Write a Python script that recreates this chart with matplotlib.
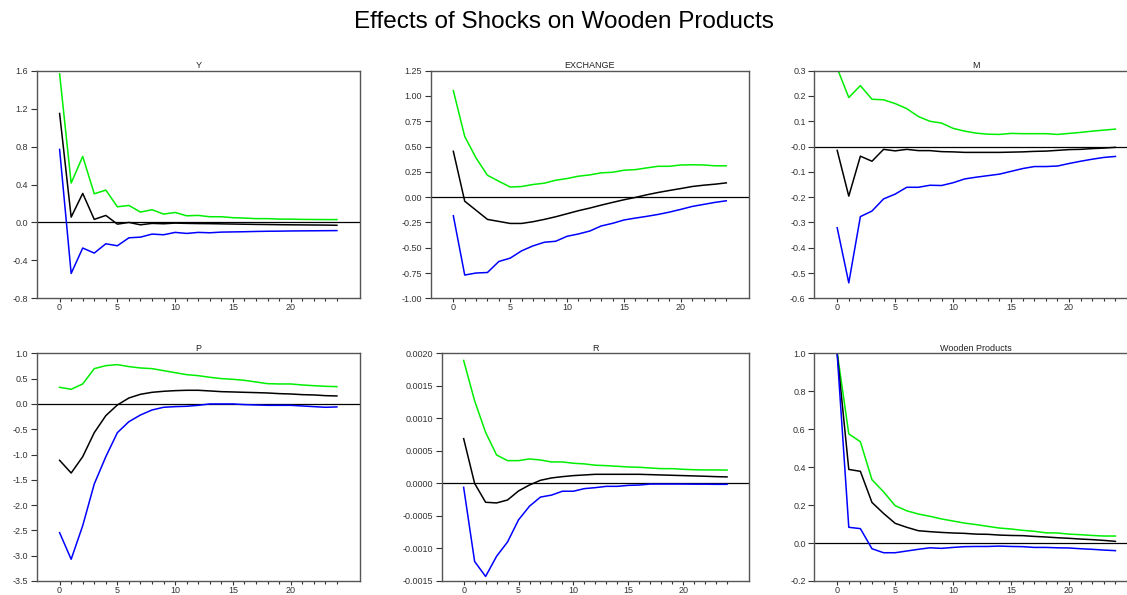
import matplotlib.pyplot as plt
from matplotlib.ticker import FixedLocator, FixedFormatter

plt.rcParams['font.family'] = ['Liberation Sans', 'DejaVu Sans']

steps = list(range(25))

# impulse responses: (lower band, response, upper band)
y_upper = [1.567, 0.415, 0.696, 0.302, 0.341, 0.165, 0.179, 0.109, 0.134, 0.088, 0.105, 0.070, 0.074,
           0.060, 0.060, 0.050, 0.046, 0.040, 0.040, 0.035, 0.035, 0.032, 0.031, 0.030, 0.030]
y_resp = [1.149, 0.056, 0.306, 0.032, 0.074, -0.018, 0.000, -0.025, -0.010, -0.014, -0.007, -0.010, -0.012,
          -0.013, -0.015, -0.017, -0.019, -0.021, -0.022, -0.024, -0.025, -0.026, -0.027, -0.028, -0.030]
y_lower = [0.770, -0.538, -0.270, -0.323, -0.225, -0.246, -0.162, -0.155, -0.123, -0.130, -0.105, -0.116, -0.105,
           -0.109, -0.102, -0.100, -0.098, -0.095, -0.093, -0.092, -0.090, -0.089, -0.088, -0.087, -0.086]

ex_upper = [1.053, 0.600, 0.387, 0.216, 0.157, 0.100, 0.105, 0.125, 0.138, 0.167, 0.184, 0.207, 0.220,
            0.240, 0.246, 0.266, 0.272, 0.289, 0.305, 0.305, 0.318, 0.320, 0.318, 0.310, 0.310]
ex_resp = [0.453, -0.040, -0.130, -0.220, -0.240, -0.260, -0.260, -0.243, -0.220, -0.194, -0.164, -0.134, -0.108,
           -0.079, -0.052, -0.026, -0.003, 0.023, 0.046, 0.066, 0.085, 0.105, 0.118, 0.128, 0.141]
ex_lower = [-0.184, -0.770, -0.750, -0.745, -0.636, -0.603, -0.531, -0.482, -0.446, -0.436, -0.387, -0.364, -0.335,
            -0.285, -0.259, -0.226, -0.207, -0.190, -0.171, -0.148, -0.121, -0.092, -0.072, -0.052, -0.036]

m_upper = [0.310, 0.194, 0.241, 0.187, 0.185, 0.170, 0.150, 0.119, 0.100, 0.093, 0.072, 0.061, 0.053,
           0.049, 0.048, 0.052, 0.051, 0.051, 0.051, 0.048, 0.052, 0.056, 0.061, 0.065, 0.069]
m_resp = [-0.015, -0.196, -0.038, -0.058, -0.011, -0.017, -0.011, -0.016, -0.016, -0.020, -0.021, -0.023, -0.023,
          -0.023, -0.023, -0.022, -0.021, -0.019, -0.018, -0.015, -0.012, -0.011, -0.008, -0.006, -0.003]
m_lower = [-0.321, -0.539, -0.277, -0.255, -0.207, -0.188, -0.161, -0.161, -0.153, -0.154, -0.143, -0.128, -0.121,
           -0.115, -0.109, -0.098, -0.087, -0.079, -0.079, -0.077, -0.067, -0.058, -0.050, -0.043, -0.039]

p_upper = [0.328, 0.289, 0.394, 0.697, 0.756, 0.776, 0.737, 0.710, 0.697, 0.657, 0.617, 0.578, 0.558,
           0.526, 0.500, 0.486, 0.466, 0.433, 0.400, 0.394, 0.394, 0.374, 0.360, 0.348, 0.341]
p_resp = [-1.115, -1.366, -1.043, -0.568, -0.232, -0.021, 0.117, 0.190, 0.229, 0.249, 0.262, 0.269, 0.269,
          0.256, 0.242, 0.236, 0.229, 0.223, 0.216, 0.203, 0.196, 0.183, 0.177, 0.163, 0.157]
p_lower = [-2.545, -3.070, -2.406, -1.582, -1.043, -0.568, -0.351, -0.219, -0.120, -0.067, -0.054, -0.047, -0.028,
           -0.001, -0.001, -0.001, -0.014, -0.021, -0.028, -0.028, -0.028, -0.041, -0.054, -0.067, -0.060]

r_upper = [0.00189, 0.00127, 0.000785, 0.000437, 0.00035, 0.00035, 0.000376, 0.00036, 0.00033, 0.00033,
           0.00031, 0.00030, 0.00028, 0.000273, 0.000263, 0.000253, 0.000248, 0.000237, 0.000227, 0.000227,
           0.000217, 0.00021, 0.000207, 0.000207, 0.000205]
r_resp = [0.000688, 0.0, -0.00029, -0.00030, -0.000255, -0.000116, -0.000024, 0.000048, 0.000084, 0.000104,
          0.00012, 0.00013, 0.00014, 0.00014, 0.00014, 0.00014, 0.00014, 0.000135, 0.00013, 0.000125,
          0.00012, 0.000115, 0.00011, 0.000104, 0.0001]
r_lower = [-0.00006, -0.0012, -0.00143, -0.00112, -0.0009, -0.00056, -0.00035, -0.00021, -0.00018, -0.00012,
           -0.00012, -0.00008, -0.000065, -0.000045, -0.000045, -0.00003, -0.000025, -0.00001, -0.00001, -0.00001,
           -0.00001, -0.000012, -0.000012, -0.000014, -0.000014]

w_upper = [1.005, 0.575, 0.534, 0.334, 0.270, 0.197, 0.170, 0.153, 0.141, 0.127, 0.116, 0.105, 0.097,
           0.088, 0.079, 0.074, 0.067, 0.062, 0.054, 0.053, 0.047, 0.044, 0.040, 0.037, 0.037]
w_resp = [1.000, 0.388, 0.378, 0.214, 0.156, 0.104, 0.083, 0.065, 0.060, 0.056, 0.053, 0.051, 0.047,
          0.046, 0.042, 0.040, 0.039, 0.035, 0.032, 0.028, 0.025, 0.021, 0.018, 0.014, 0.009]
w_lower = [0.995, 0.083, 0.076, -0.030, -0.051, -0.051, -0.042, -0.033, -0.025, -0.028, -0.023, -0.019, -0.018,
           -0.018, -0.016, -0.018, -0.019, -0.023, -0.023, -0.025, -0.026, -0.030, -0.033, -0.037, -0.040]

titles = ['Y', 'EXCHANGE', 'M', 'P', 'R', 'Wooden Products']
series = [(y_lower, y_resp, y_upper), (ex_lower, ex_resp, ex_upper), (m_lower, m_resp, m_upper),
          (p_lower, p_resp, p_upper), (r_lower, r_resp, r_upper), (w_lower, w_resp, w_upper)]
ytick_labels = [
    ['-0.8', '-0.4', '0.0', '0.4', '0.8', '1.2', '1.6'],
    ['-1.00', '-0.75', '-0.50', '-0.25', '0.00', '0.25', '0.50', '0.75', '1.00', '1.25'],
    ['-0.6', '-0.5', '-0.4', '-0.3', '-0.2', '-0.1', '-0.0', '0.1', '0.2', '0.3'],
    ['-3.5', '-3.0', '-2.5', '-2.0', '-1.5', '-1.0', '-0.5', '0.0', '0.5', '1.0'],
    ['-0.0015', '-0.0010', '-0.0005', '0.0000', '0.0005', '0.0010', '0.0015', '0.0020'],
    ['-0.2', '0.0', '0.2', '0.4', '0.6', '0.8', '1.0'],
]

W, H = 1127, 595
# axes boxes in pixels: left, right, top, bottom
boxes = [(36.5, 360, 70.7, 298.3), (430.6, 749, 70.7, 298.3), (814, 1138.6, 70.7, 298.3),
         (36.5, 360, 353.3, 581), (441.7, 749, 353.3, 581), (814, 1138.6, 353.3, 581)]

fig = plt.figure(figsize=(W / 100, H / 100), dpi=100)
fig.suptitle('Effects of Shocks on Wooden Products', y=0.982, fontsize=17.5)

for title, (lo, mid, up), labels, (l, r, t, b) in zip(titles, series, ytick_labels, boxes):
    ax = fig.add_axes([l / W, 1 - b / H, (r - l) / W, (b - t) / H])
    ticks = [float(s) for s in labels]
    ax.axhline(0, color='black', lw=0.9)
    ax.plot(steps, up, color='#00ee00', lw=1.1)
    ax.plot(steps, mid, color='black', lw=1.1)
    ax.plot(steps, lo, color='#0000ff', lw=1.1)
    ax.set_xlim(-2, 26)
    ax.set_ylim(ticks[0], ticks[-1])
    ax.set_xticks([0, 5, 10, 15, 20])
    ax.xaxis.set_minor_locator(FixedLocator([i for i in range(25) if i % 5]))
    ax.yaxis.set_major_locator(FixedLocator(ticks))
    ax.yaxis.set_major_formatter(FixedFormatter(labels))
    ax.tick_params(which='both', direction='out', labelsize=6.5, colors='#333333', width=0.8)
    ax.tick_params(axis='y', which='major', length=4, pad=2)
    ax.tick_params(axis='x', which='major', length=3, pad=0.5)
    ax.tick_params(axis='x', which='minor', length=2.5)
    for s in ax.spines.values():
        s.set_color('#555555')
        s.set_linewidth(1.0)
    ax.set_title(title, fontsize=6.5, pad=2, color='#222222')

fig.savefig('out.png', dpi=100)
plt.close()
